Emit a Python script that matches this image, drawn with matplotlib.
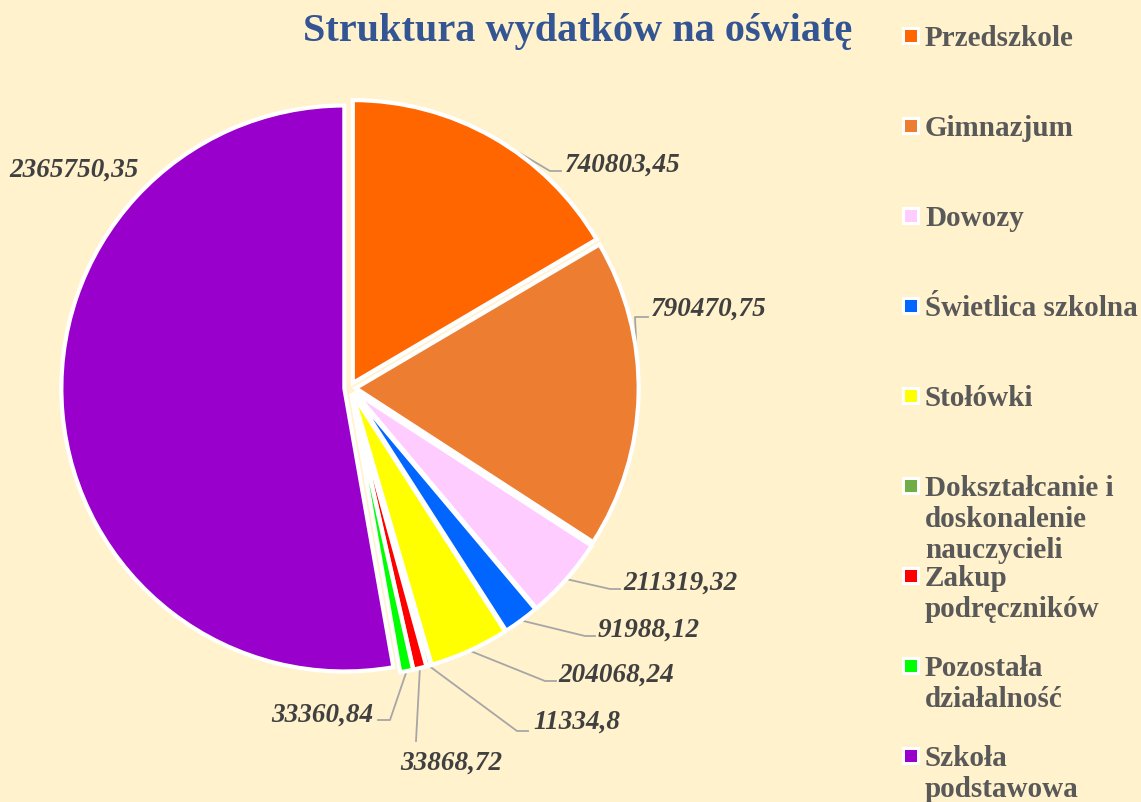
import matplotlib.pyplot as plt
from matplotlib.patches import Rectangle
import numpy as np

# dane
categories = ["Przedszkole", "Gimnazjum", "Dowozy", "Świetlica szkolna", "Stołówki",
              "Dokształcanie i\ndoskonalenie\nnauczycieli", "Zakup\npodręczników",
              "Pozostała\ndziałalność", "Szkoła\npodstawowa"]
values = [740803.45, 790470.75, 211319.32, 91988.12, 204068.24,
          11334.8, 33868.72, 33360.84, 2365750.35]
value_labels = ["740803,45", "790470,75", "211319,32", "91988,12", "204068,24",
                "11334,8", "33868,72", "33360,84", "2365750,35"]
colors = ["#FF6600", "#ED7D31", "#FFCCFF", "#0066FF", "#FFFF00",
          "#70AD47", "#FF0000", "#00FF00", "#9900CC"]

W, H = 1141, 803
CX, CY, R = 350, 389, 283  # srodek kola i promien w pikselach
BG = "#FFF2CC"


def px(x, y):
    return (x - CX) / R, (CY - y) / R


# uklad etykiet (piksele): punkty linii odniesienia, pozycja tekstu, wyrownanie
leaders = [
    [(550, 172), (561, 172)],
    [(635, 318), (648, 318)],
    [(610, 590), (620, 590)],
    [(585, 637), (595, 637)],
    [(545, 682), (556, 682)],
    [(517, 732), (528, 732)],
    [(416, 742)],
    [(390, 721), (378, 721)],
    None,
]
text_pos = [(565, 165, "left"), (651, 309, "left"), (623, 583, "left"),
            (598, 630, "left"), (558, 675, "left"), (533, 722, "left"),
            (451, 763, "center"), (373, 715, "right"), (74, 170, "center")]


def main():
    fig = plt.figure(figsize=(W / 100, H / 100), dpi=100, facecolor=BG)
    ax = fig.add_axes([0, 0, 1, 1])
    ax.set_facecolor(BG)

    wedges, _ = ax.pie(values, colors=colors, startangle=90, counterclock=False,
                       explode=[0.02] * len(values), radius=1,
                       wedgeprops=dict(edgecolor="white", linewidth=3))
    ax.set_xlim(-CX / R, (W - CX) / R)
    ax.set_ylim(-(H - CY) / R, CY / R)
    ax.set_aspect("auto")
    ax.axis("off")

    for i, w in enumerate(wedges):
        x, y, ha = text_pos[i]
        ax.text(*px(x, y), value_labels[i], ha=ha, va="center", fontsize=19.5,
                fontfamily="Liberation Serif", fontweight="bold", fontstyle="italic",
                color="#404040")
        if leaders[i] is None:
            continue
        ang = np.deg2rad((w.theta1 + w.theta2) / 2)
        ax_ = w.center[0] + w.r * np.cos(ang)
        ay_ = w.center[1] + w.r * np.sin(ang)
        pts = [(ax_, ay_)] + [px(*p) for p in leaders[i]]
        ax.plot([p[0] for p in pts], [p[1] for p in pts], color="#A6A6A6", lw=1.3,
                zorder=0.5)

    # tytul
    fig.text(578 / W, 1 - 32 / H, "Struktura wydatków na oświatę", ha="center",
             va="center", fontsize=29, fontfamily="Liberation Serif",
             fontweight="bold", color="#335593")

    # legenda
    for i, name in enumerate(categories):
        my = 37 + i * 90
        s_out, s_in = 18, 12
        fig.patches.append(Rectangle(((911 - s_out / 2) / W, 1 - (my + s_out / 2) / H),
                                     s_out / W, s_out / H, facecolor="white",
                                     edgecolor="none", transform=fig.transFigure))
        fig.patches.append(Rectangle(((911 - s_in / 2) / W, 1 - (my + s_in / 2) / H),
                                     s_in / W, s_in / H, facecolor=colors[i],
                                     edgecolor="none", transform=fig.transFigure))
        fig.text(925 / W, 1 - (my - 12) / H, name, ha="left", va="top",
                 fontsize=21, fontfamily="Liberation Serif", fontweight="bold",
                 color="#595959", linespacing=1.18)

    fig.savefig("out.png", dpi=100, facecolor=BG)


if __name__ == "__main__":
    main()
